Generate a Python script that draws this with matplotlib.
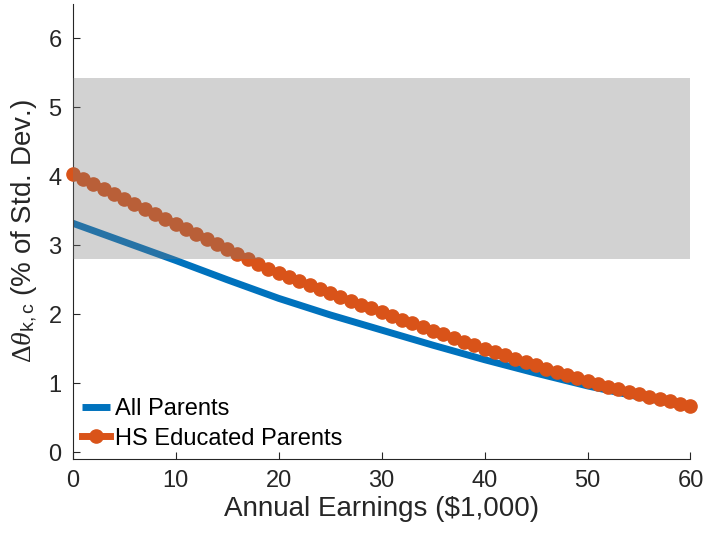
import numpy as np
import matplotlib
matplotlib.use("Agg")
import matplotlib.pyplot as plt

plt.rcParams['font.family'] = ['Liberation Sans', 'DejaVu Sans']
plt.rcParams['mathtext.fontset'] = 'custom'
plt.rcParams['mathtext.rm'] = 'Liberation Serif'
plt.rcParams['mathtext.it'] = 'Liberation Serif:italic'
plt.rcParams['mathtext.sf'] = 'Liberation Sans'

# All Parents curve (read every 5 units)
earnings_all = [0, 5, 10, 15, 20, 25, 30, 35, 40, 45, 50, 55, 60]
all_parents = [3.32, 3.05, 2.78, 2.50, 2.23, 1.99, 1.77, 1.55, 1.34, 1.145, 0.96, 0.80, 0.66]

# HS Educated Parents (one marker per unit)
earnings_hs = list(range(0, 61))
hs_parents = [4.040, 3.967, 3.894, 3.821, 3.748, 3.675, 3.602, 3.529, 3.456, 3.383, 3.310,
              3.238, 3.166, 3.094, 3.022, 2.950, 2.878, 2.806, 2.734, 2.662, 2.595,
              2.535, 2.476, 2.418, 2.361, 2.305, 2.250, 2.195, 2.140, 2.085, 2.030,
              1.976, 1.922, 1.868, 1.815, 1.762, 1.709, 1.656, 1.604, 1.552, 1.500,
              1.451, 1.402, 1.354, 1.306, 1.259, 1.212, 1.166, 1.120, 1.075, 1.030,
              0.990, 0.951, 0.913, 0.876, 0.840, 0.805, 0.770, 0.736, 0.702, 0.668]

band_x = [0, 60]
band_low = [2.80, 2.80]
band_high = [5.42, 5.42]

series_labels = ['All Parents', 'HS Educated Parents']
x_ticks = [0, 10, 20, 30, 40, 50, 60]
y_ticks = [0, 1, 2, 3, 4, 5, 6]

blue = (0.0, 0.447, 0.741)
orange = (0.850, 0.325, 0.098)
axcol = (0.15, 0.15, 0.15)

fig = plt.figure(figsize=(7.06, 5.37), dpi=100)
ax = fig.add_axes([0.103, 0.1453, 0.875, 0.8473])

ax.plot(earnings_all, all_parents, color=blue, lw=5, label=series_labels[0],
        solid_capstyle='butt', solid_joinstyle='round', zorder=2)
ax.plot(earnings_hs, hs_parents, color=orange, lw=5, marker='o', markersize=9.5,
        markeredgecolor=orange, markerfacecolor=orange,
        label=series_labels[1], clip_on=False, zorder=3)
ax.fill_between(band_x, band_low, band_high, color='0.47', alpha=0.33,
                lw=0, zorder=4)

ax.set_xlim(0, 60)
ax.set_ylim(-0.1, 6.5)
ax.set_xticks(x_ticks)
ax.set_yticks(y_ticks)

for s in ['top', 'right']:
    ax.spines[s].set_visible(False)
for s in ['left', 'bottom']:
    ax.spines[s].set_color(axcol)
    ax.spines[s].set_linewidth(0.8)
ax.tick_params(direction='in', length=5, width=0.8, colors=axcol,
               labelsize=17, pad=8)

ax.set_xlabel('Annual Earnings ($1,000)', fontsize=20, color=axcol, labelpad=3)
ax.set_ylabel(r'$\Delta\theta_{\mathsf{k,c}}$ (% of Std. Dev.)', fontsize=20,
              color=axcol, labelpad=6)

leg = ax.legend(loc='lower left', frameon=False, fontsize=17, handlelength=1.2,
                handletextpad=0.17, borderaxespad=0.0, labelspacing=0.3,
                bbox_to_anchor=(0.0, 0.0))

fig.savefig('out.png', dpi=100)
